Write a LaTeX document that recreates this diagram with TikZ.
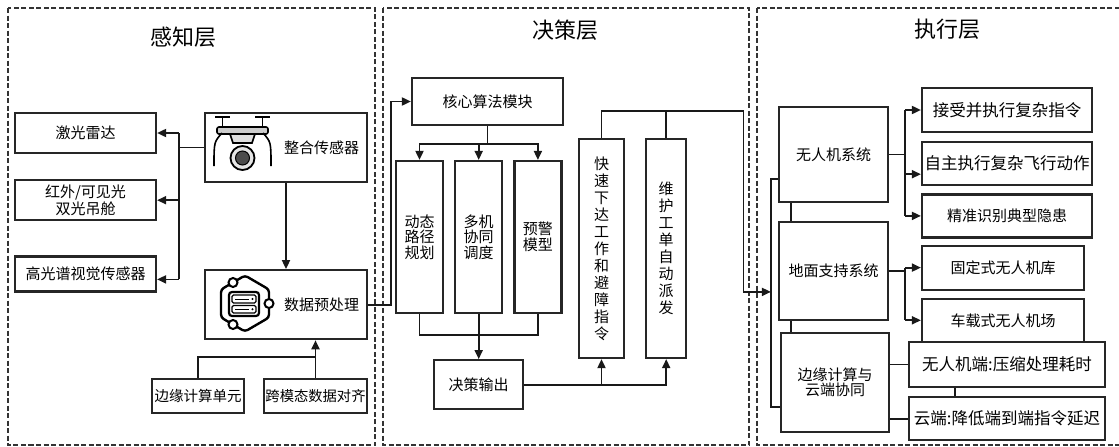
\documentclass[tikz,border=0pt]{standalone}
\usepackage{fontspec}
\setmainfont{Noto Sans CJK SC}
\usetikzlibrary{arrows.meta, positioning}
\newcommand{\boxfont}{\fontsize{15}{17}\selectfont}
\newcommand{\bigboxfont}{\fontsize{16.5}{19}\selectfont}
\newcommand{\layerfont}{\fontsize{22}{26}\selectfont}

\begin{document}
\begin{tikzpicture}[
        x=1pt, y=-1pt,
        node distance=10pt,
        blk/.style={rectangle, draw=black!85, line width=2.2pt, align=center, font=\boxfont, inner sep=2pt},
        tallblk/.style={blk, minimum width=47pt, minimum height=152pt, font=\fontsize{15}{15.5}\selectfont},
        vertblk/.style={blk, minimum height=219pt, font=\fontsize{15}{17}\selectfont},
        iconblk/.style={blk, minimum width=162pt, minimum height=69pt, text width=146pt, inner sep=8pt, align=right},
        layer/.style={draw=black!80, line width=1.6pt, dash pattern=on 5pt off 2.5pt},
        layertitle/.style={font=\layerfont},
        conn/.style={draw=black!90, line width=1.8pt},
        arr/.style={conn, -{Triangle[length=9pt, width=8pt]}}
    ]
        \useasboundingbox (0,0) rectangle (1119,447);

        % Layer frames
        \draw[layer] (8,8) rectangle (375,445);
        \draw[layer] (383,8) rectangle (749,445);
        \draw[layer] (757,8) rectangle (1135,445);
        \node[layertitle] (tsense) at (183,37) {感知层};
        \node[layertitle] (tdecide) at (565,30) {决策层};
        \node[layertitle] (texec) at (947,29) {执行层};

        % Perception layer
        \node[blk, minimum width=141pt, minimum height=40pt] (lidar) at (85.5,133) {激光雷达};
        \node[blk, minimum width=141pt, minimum height=40pt, font=\fontsize{15}{15}\selectfont, below=25pt of lidar] (ir) {红外/可见光\\双光吊舱};
        \node[blk, minimum width=141pt, minimum height=35pt, below=34pt of ir] (hsi) {高光谱视觉传感器};
        \node[iconblk] (sens) at (286,147.5) {整合传感器};
        \node[iconblk, below=86pt of sens] (pre) {数据预处理};
        \node[blk, minimum width=92pt, minimum height=34pt, inner sep=1pt, font=\fontsize{14.5}{16}\selectfont] (edgeu) at (198,396) {边缘计算单元};
        \node[blk, minimum width=103pt, minimum height=34pt, inner sep=1pt, font=\fontsize{14.3}{16}\selectfont] (align) at (315.5,396) {跨模态数据对齐};

        % Drone icon
        \draw[line width=1.8pt] (215,117) -- (230,117) (255,117) -- (270,117);
        \draw[line width=1.8pt] (222.5,117) -- (222.5,128) (262.5,117) -- (262.5,128);
        \draw[line width=1.6pt, fill=gray!40, rounded corners=2pt] (217,127) rectangle (268,134);
        \draw[line width=1.6pt, fill=gray!25] (230,134) -- (255,134) -- (252,143) -- (233,143) -- cycle;
        \draw[line width=1.6pt] (222,133) .. controls (214,142) .. (214,166);
        \draw[line width=1.6pt] (263,133) .. controls (271,142) .. (271,166);
        \draw[line width=1.8pt, fill=gray!20] (242.5,158) circle (12pt);
        \draw[line width=1pt, fill=black!70] (242.5,158) circle (7pt);

        % Data icon
        \draw[line width=2.4pt, rounded corners=3pt] (245,275.5) -- (269,289.5) -- (269,317.5) -- (245,331.5) -- (221,317.5) -- (221,289.5) -- cycle;
        \foreach \p in {(233,282.5), (269,303.5), (233,324.5)}
            \draw[line width=2pt, fill=white] \p circle (4.5pt);
        \draw[line width=2.2pt, rounded corners=3pt] (229,292) rectangle (259,316);
        \draw[line width=1.3pt, rounded corners=1.5pt] (232,295) rectangle (256,303);
        \draw[line width=1.3pt, rounded corners=1.5pt] (232,305.5) rectangle (256,313);
        \draw[line width=1pt] (235,299) -- (249,299) (235,309.2) -- (249,309.2);
        \fill (252.5,299) circle (1.2pt) (252.5,309.2) circle (1.2pt);

        % Perception connectors
        \draw[conn] (sens.west) -- ++(-25,0) coordinate (sb);
        \coordinate (hsiin) at ([yshift=-5.5pt]hsi.east);
        \draw[arr] (sb |- lidar.east) -- (lidar.east);
        \draw[arr] (sb |- ir.east) -- (ir.east);
        \draw[arr] (sb |- hsiin) -- (hsiin);
        \draw[conn] (sb |- lidar.east) -- (sb |- hsiin);
        \draw[arr] (sens.south) -- (pre.north);
        \draw[arr] (align.north) -- (align.north |- pre.south);
        \draw[conn] (edgeu.north) -- ++(0,-21) -| (align.north);

        % Decision layer
        \node[blk, minimum width=151pt, minimum height=47pt] (core) at (487.5,101.5) {核心算法模块};
        \node[tallblk] (dyn) at (419.5,237) {动态\\路径\\规划};
        \node[tallblk, right=10pt of dyn] (multi) {多机\\协同\\调度};
        \node[tallblk, right=10pt of multi] (warn) {预警\\模型};
        \node[blk, minimum width=89pt, minimum height=49pt, below=45pt of multi] (out) {决策输出};
        \node[vertblk, minimum width=45pt] (fast) at (601.5,248.5) {快\\速\\下\\达\\工\\作\\和\\避\\障\\指\\令};
        \node[vertblk, minimum width=40pt, right=20pt of fast] (maint) {维\\护\\工\\单\\自\\动\\派\\发};

        % Decision connectors
        \draw[arr] (pre.east) -- ++(23,0) |- (core.west);
        \draw[conn] (core.south) -- ++(0,18) coordinate (cb);
        \draw[arr] (cb) -| (dyn.north);
        \draw[arr] (cb) -| (warn.north);
        \draw[arr] (cb -| multi.north) -- (multi.north);
        \draw[conn] (dyn.south) -- ++(0,21) coordinate (db) -| (warn.south);
        \draw[conn] (multi.south) -- (multi.south |- db);
        \draw[arr] (out.north |- db) -- (out.north);
        \draw[arr] (out.east) -| (maint.south);
        \draw[arr] (out.east -| fast.south) -- (fast.south);
        \draw[conn] (fast.north) -- ++(0,-27) coordinate (ft) -- ++(142,0) coordinate (fr);
        \draw[conn] (maint.north) -- (maint.north |- ft);

        % Execution layer
        \node[blk, minimum width=109pt, minimum height=95pt] (uav) at (833.5,154.5) {无人机系统};
        \node[blk, minimum width=109pt, minimum height=98pt, below=18pt of uav] (ground) {地面支持系统};
        \node[blk, minimum width=108pt, minimum height=99pt, font=\fontsize{15}{15}\selectfont] (cloud) at (835,382.5) {边缘计算与\\云端协同};
        \node[blk, minimum width=170pt, minimum height=44pt, font=\bigboxfont] (t1) at (1007,110) {接受并执行复杂指令};
        \node[blk, minimum width=170pt, minimum height=43pt, font=\bigboxfont, below=8pt of t1] (t2) {自主执行复杂飞行动作};
        \node[blk, minimum width=170pt, minimum height=43pt, below=7pt of t2] (t3) {精准识别典型隐患};
        \node[blk, minimum width=162pt, minimum height=44pt, below right=6pt and 0pt of t3.south west] (g1) {固定式无人机库};
        \node[blk, minimum width=162pt, minimum height=43pt, below=7pt of g1] (g2) {车载式无人机场};
        \node[blk, minimum width=196pt, minimum height=45pt, font=\bigboxfont] (e1) at (1007,364.5) {无人机端:压缩处理耗时};
        \node[blk, minimum width=196pt, minimum height=43pt, font=\bigboxfont, below=8pt of e1] (e2) {云端:降低端到端指令延迟};

        % Execution connectors
        \coordinate (uavin) at ([yshift=-24.5pt]uav.west);
        \coordinate (cloudin) at ([yshift=-24.5pt]cloud.west);
        \draw[conn] (uavin) -- ++(-7,0) coordinate (bt) -- (bt |- cloudin) -- (cloudin);
        \draw[arr] (fr) -- ++(0,181) coordinate (fd) -- (fd -| bt);
        \draw[conn] ([xshift=13pt]uav.south west) -- ([xshift=13pt]ground.north west);
        \draw[conn] ([xshift=13pt]ground.south west) -- ([xshift=11pt]cloud.north west);
        \draw[conn] (uav.east) -- ++(16,0) coordinate (ub);
        \coordinate (t2in) at ([yshift=-10.5pt]t2.west);
        \draw[arr] (ub |- t1.west) -- (t1.west);
        \draw[arr] (ub |- t2in) -- (t2in);
        \draw[arr] (ub |- t3.west) -- (t3.west);
        \draw[conn] (ub |- t1.west) -- (ub |- t3.west);
        \draw[conn] (ground.east) -- ++(16,0) coordinate (gb);
        \draw[arr] (gb |- g1.west) -- (g1.west);
        \draw[arr] (gb |- g2.west) -- (g2.west);
        \draw[conn] (gb |- g1.west) -- (gb |- g2.west);
        \draw[conn] (e1.west) -- (e1.west -| cloud.east);
        \draw[conn] (e2.west) -- (e2.west -| cloud.east);
        \draw[conn] ([xshift=-52pt]e1.south) -- ([xshift=-52pt]e2.north);
    \end{tikzpicture}
\end{document}
